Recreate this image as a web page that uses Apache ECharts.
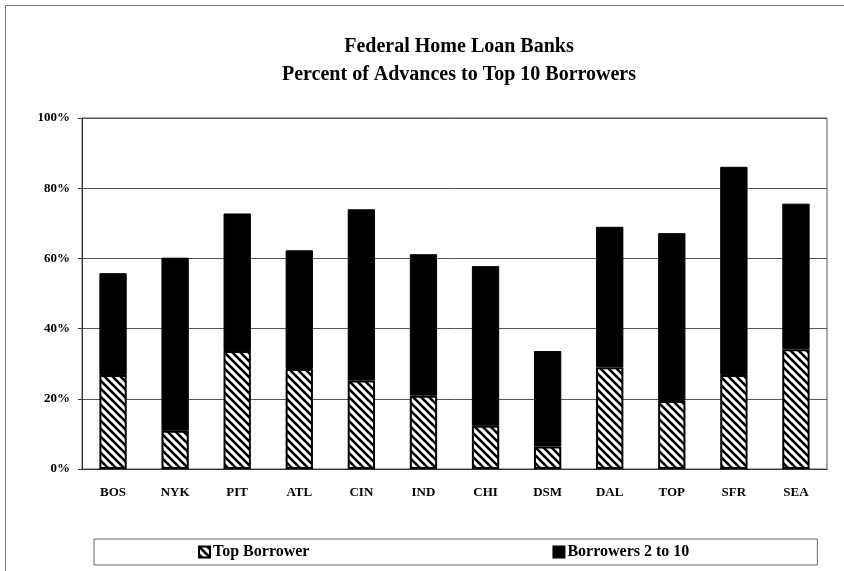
<!DOCTYPE html>
<html>
<head>
<meta charset="utf-8">
<script src="https://cdn.jsdelivr.net/npm/echarts@6/dist/echarts.min.js"></script>
<style>html,body{margin:0;padding:0;background:#fff}#c{width:844px;height:571px}</style>
</head>
<body>
<div id="c"></div>
<script>
const categories = ['BOS','NYK','PIT','ATL','CIN','IND','CHI','DSM','DAL','TOP','SFR','SEA'];
const topBorrower = [26.8, 10.9, 33.6, 28.5, 25.2, 20.9, 12.3, 6.4, 29.0, 19.4, 26.8, 34.1];
const borrowers2to10 = [29.0, 49.3, 39.2, 33.8, 48.8, 40.3, 45.5, 27.2, 40.0, 47.8, 59.3, 41.5];
const yTicks = [0, 20, 40, 60, 80, 100];

function stripeCanvas() {
  const s = 8;
  const c = document.createElement('canvas');
  c.width = s; c.height = s;
  const g = c.getContext('2d');
  g.fillStyle = '#fff'; g.fillRect(0, 0, s, s);
  g.strokeStyle = '#000'; g.lineWidth = 2.6;
  g.beginPath();
  g.moveTo(-2, -2); g.lineTo(s + 2, s + 2);
  g.moveTo(-2 - s, -2); g.lineTo(2, s + 2);
  g.moveTo(s - 2, -2); g.lineTo(2 * s + 2, s + 2);
  g.stroke();
  return c;
}
const stripe = { image: stripeCanvas(), repeat: 'repeat' };
const font = '"Liberation Serif", "Times New Roman", serif';

const chart = echarts.init(document.getElementById('c'), null, { renderer: 'canvas' });
chart.setOption({
  animation: false,
  backgroundColor: '#fff',
  textStyle: { fontFamily: font, color: '#000' },
  title: {
    text: 'Federal Home Loan Banks\nPercent of Advances to Top 10 Borrowers',
    left: 454, top: 28, textAlign: 'center',
    textStyle: { fontFamily: font, fontSize: 20, fontWeight: 'bold', lineHeight: 28, color: '#000' }
  },
  graphic: [{
    type: 'rect', shape: { x: 5.5, y: 5.5, width: 850, height: 580 },
    style: { fill: 'none', stroke: '#777', lineWidth: 1 }, silent: true
  }],
  legend: {
    left: 94, top: 539,
    padding: [5, 128, 5, 104],
    itemGap: 243,
    itemWidth: 11, itemHeight: 11,
    borderColor: '#666', borderWidth: 1,
    icon: 'rect',
    textStyle: { fontFamily: font, fontSize: 16, fontWeight: 'bold', color: '#000', padding: [0, 0, 0, -2] },
    data: ['Top Borrower', 'Borrowers 2 to 10']
  },
  grid: {
    left: 82, right: 17, top: 118, bottom: 102,
    show: true, borderColor: '#555', borderWidth: 1
  },
  xAxis: {
    type: 'category', data: categories,
    axisLine: { lineStyle: { color: '#333' } },
    axisTick: { show: false },
    axisLabel: { fontFamily: font, fontSize: 13, fontWeight: 'bold', color: '#000', margin: 17 }
  },
  yAxis: {
    type: 'value', min: 0, max: 100, interval: 20,
    axisLine: { show: true, lineStyle: { color: '#333' } },
    axisTick: { show: true, length: 4, lineStyle: { color: '#333' } },
    splitLine: { lineStyle: { color: '#555', width: 1 } },
    axisLabel: {
      fontFamily: font, fontSize: 13, fontWeight: 'bold', color: '#000', margin: 12,
      formatter: v => yTicks.includes(v) ? v + '%' : ''
    }
  },
  series: [
    {
      name: 'Top Borrower', type: 'bar', stack: 'total', data: topBorrower,
      barWidth: '44%',
      itemStyle: { color: stripe, borderColor: '#000', borderWidth: 2 }
    },
    {
      name: 'Borrowers 2 to 10', type: 'bar', stack: 'total', data: borrowers2to10,
      barWidth: '44%',
      itemStyle: { color: '#000', borderColor: '#000', borderWidth: 1 }
    }
  ]
});
</script>
</body>
</html>
